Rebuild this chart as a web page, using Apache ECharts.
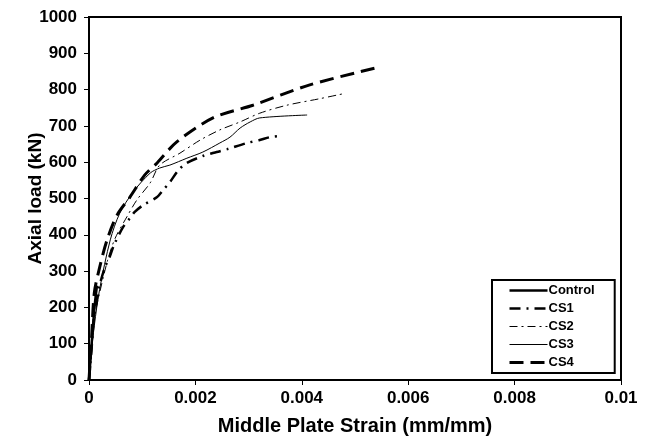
<!DOCTYPE html>
<html>
<head>
<meta charset="utf-8">
<script src="https://cdn.jsdelivr.net/npm/echarts@6/dist/echarts.min.js"></script>
<style>
  html, body { margin: 0; padding: 0; background: #fff; }
  #chart { width: 648px; height: 437px; }
</style>
</head>
<body>
<div id="chart"></div>
<script>
// strain (mm/mm), load (kN)
const control = [[0, 0], [0.00003, 60], [0.00007, 140], [0.00011, 210], [0.00015, 260]];
const cs1 = [[0, 0], [0.00005, 90], [0.0001, 180], [0.0002, 260], [0.0003, 311], [0.00038, 336],
  [0.00047, 372], [0.00064, 421], [0.00077, 446], [0.00086, 463], [0.00102, 482], [0.00128, 504],
  [0.00139, 523], [0.00152, 545], [0.00168, 578], [0.00184, 598], [0.00214, 617], [0.0024, 628],
  [0.0026, 636], [0.00297, 653], [0.00321, 661], [0.0034, 669], [0.00357, 672]];
const cs2 = [[0, 0], [0.00005, 90], [0.0001, 170], [0.0002, 240], [0.00035, 330], [0.00049, 390],
  [0.00071, 449], [0.0009, 496], [0.00115, 543], [0.00133, 592], [0.00171, 625], [0.00209, 661],
  [0.00246, 689], [0.00284, 711], [0.00321, 735], [0.00372, 757], [0.00434, 775], [0.00476, 788]];
const cs3 = [[0, 0], [0.00004, 70], [0.0001, 150], [0.0002, 250], [0.0004, 386], [0.00058, 460],
  [0.00083, 518], [0.00115, 570], [0.00133, 584], [0.00152, 592], [0.00184, 611], [0.00214, 628],
  [0.00246, 653], [0.00265, 669], [0.00284, 694], [0.00303, 711], [0.00321, 722], [0.0041, 730]];
const cs4 = [[0, 0], [0.00005, 120], [0.0001, 240], [0.0002, 310], [0.00034, 386], [0.00053, 455],
  [0.00077, 504], [0.00105, 565], [0.00128, 598], [0.00165, 656], [0.00233, 722], [0.00308, 757],
  [0.00415, 813], [0.0054, 860]];

const seriesNames = ["Control", "CS1", "CS2", "CS3", "CS4"];
const seriesData = [control, cs1, cs2, cs3, cs4];
const lineStyles = [
  { width: 2.5, type: "solid" },
  { width: 2.5, type: [11, 6, 2, 6] },
  { width: 1, type: [8, 4, 2, 4] },
  { width: 1, type: "solid" },
  { width: 3, type: [14, 7] },
];

const chart = echarts.init(document.getElementById("chart"));
const font = "Liberation Sans, Arial, sans-serif";

chart.setOption({
  animation: false,
  grid: {
    left: 89, right: 27, top: 17, bottom: 57,
    outerBoundsMode: "none",
    show: true, borderColor: "#000", borderWidth: 2,
  },
  legend: {
    orient: "vertical",
    left: 492, top: 280,
    data: seriesNames.map((name, i) => ({
      name: name,
      lineStyle: Object.assign({ color: "#000" }, lineStyles[i]),
    })),
    itemWidth: 38, itemHeight: 13, itemGap: 5,
    padding: [4, 20, 4, 16],
    borderColor: "#000", borderWidth: 2,
    backgroundColor: "#fff",
    itemStyle: { opacity: 0 },
    textStyle: { fontFamily: font, fontWeight: "bold", fontSize: 13, color: "#000", padding: [0, 0, 0, -4] },
  },
  xAxis: {
    type: "value",
    min: 0, max: 0.01, interval: 0.002,
    name: "Middle Plate Strain (mm/mm)",
    nameLocation: "middle", nameGap: 36, nameMoveOverlap: false,
    nameTextStyle: { fontFamily: font, fontWeight: "bold", fontSize: 20, color: "#000" },
    axisLine: { lineStyle: { color: "#000", width: 2 } },
    axisTick: { show: true, length: 5, lineStyle: { color: "#000" } },
    axisLabel: {
      fontFamily: font, fontWeight: "bold", fontSize: 17, color: "#000", margin: 10,
      formatter: (v) => String(parseFloat(v.toFixed(3))),
    },
    splitLine: { show: false },
  },
  yAxis: {
    type: "value",
    min: 0, max: 1000, interval: 100,
    name: "Axial load (kN)",
    nameLocation: "middle", nameGap: 44, nameMoveOverlap: false,
    nameTextStyle: { fontFamily: font, fontWeight: "bold", fontSize: 19, color: "#000" },
    axisLine: { show: true, lineStyle: { color: "#000", width: 2 } },
    axisTick: { show: true, length: 5, lineStyle: { color: "#000" } },
    axisLabel: {
      fontFamily: font, fontWeight: "bold", fontSize: 17, color: "#000", margin: 12,
      formatter: (v) => String(v),
    },
    splitLine: { show: false },
  },
  series: seriesNames.map((name, i) => ({
    name: name,
    type: "line",
    data: seriesData[i],
    showSymbol: false,
    symbol: "none",
    smooth: 0.3,
    lineStyle: Object.assign({ color: "#000" }, lineStyles[i]),
    itemStyle: { color: "#000" },
  })),
});
</script>
</body>
</html>
